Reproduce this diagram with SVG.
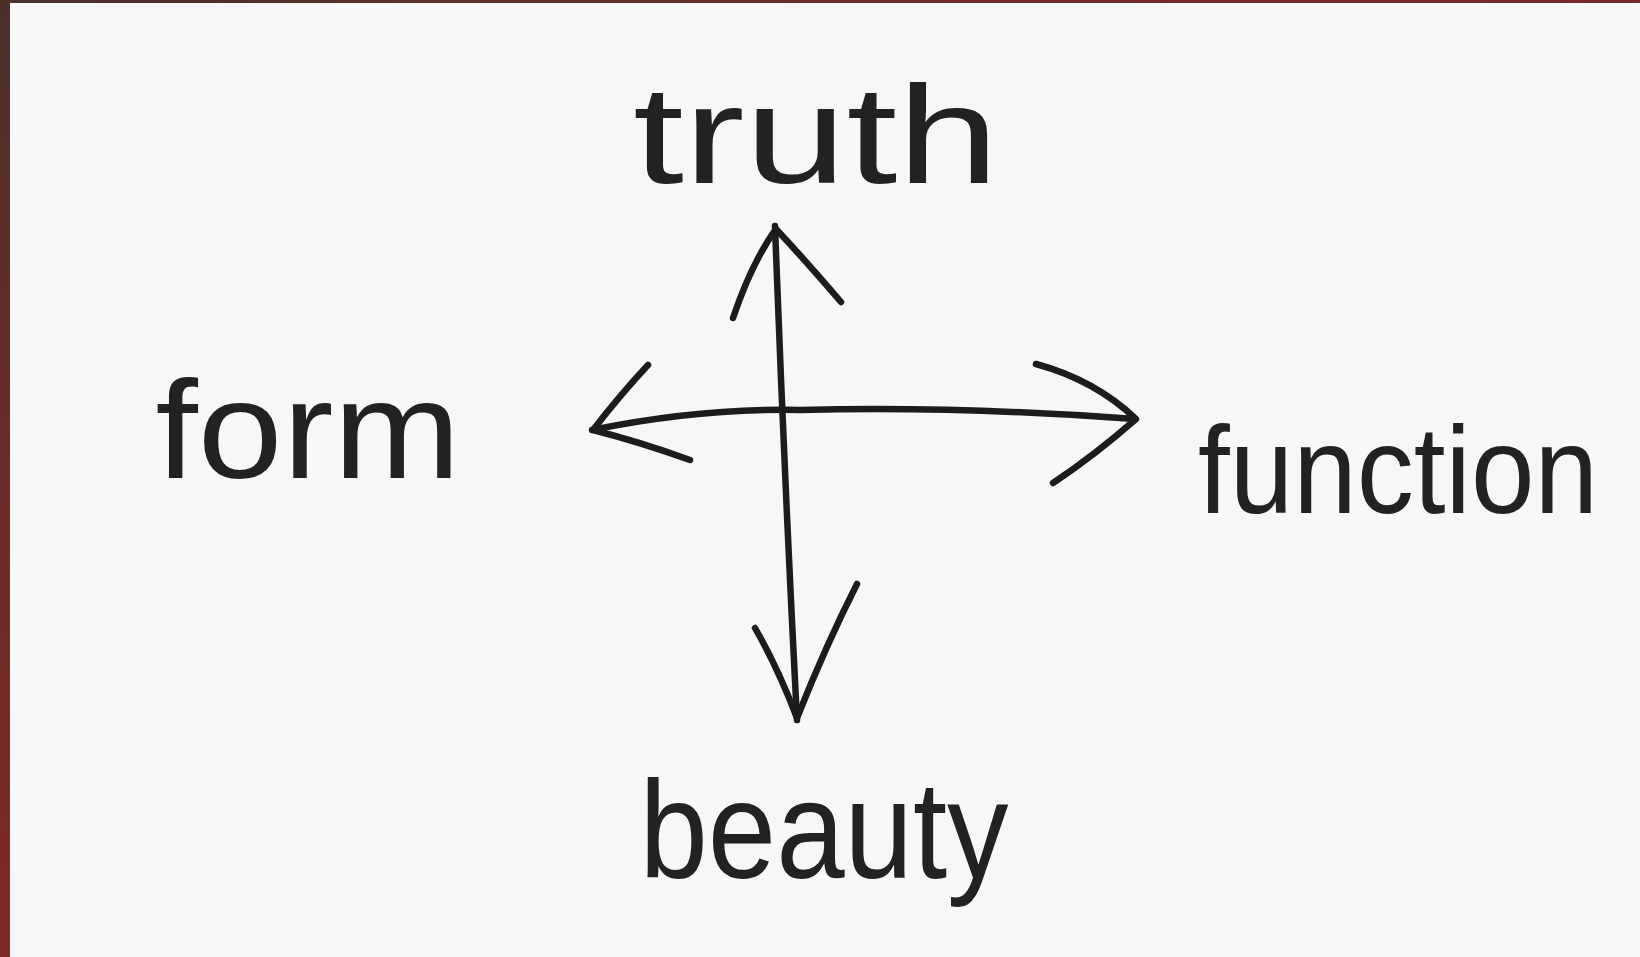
<svg xmlns="http://www.w3.org/2000/svg" width="1640" height="957" viewBox="0 0 1640 957">
  <defs>
    <linearGradient id="edgeL" x1="0" y1="0" x2="0" y2="1">
      <stop offset="0" stop-color="#4a3029"/>
      <stop offset="0.45" stop-color="#6a2c27"/>
      <stop offset="1" stop-color="#7f2b26"/>
    </linearGradient>
    <linearGradient id="edgeT" x1="0" y1="0" x2="1" y2="0">
      <stop offset="0" stop-color="#4a3029"/>
      <stop offset="0.5" stop-color="#6b2d29"/>
      <stop offset="1" stop-color="#7a2a28"/>
    </linearGradient>
  </defs>
  <style>
    .pencil { fill: none; stroke: #1c1c1c; stroke-width: 6.5; stroke-linecap: round; stroke-linejoin: round; }
    .word { font-family: "Liberation Sans", Arial, sans-serif; font-size: 140px; fill: #222222; }
  </style>
  <rect x="0" y="0" width="1640" height="957" fill="url(#edgeL)"/>
  <rect x="0" y="0" width="1640" height="4" fill="url(#edgeT)"/>
  <rect x="10" y="3" width="1630" height="954" fill="#f7f7f7"/>

  <g id="connectors">
    <!-- vertical double arrow -->
    <path class="pencil" d="M775,226 Q784,470 797,720"/>
    <path class="pencil" d="M733,318 Q752,262 776,229 Q805,260 841,302"/>
    <path class="pencil" d="M755,628 Q778,668 797,718 Q826,645 857,584"/>
    <!-- horizontal double arrow -->
    <path class="pencil" d="M592,430 Q700,408 800,410 Q960,406 1135,419"/>
    <path class="pencil" d="M648,365 Q620,395 593,430 Q640,442 690,460"/>
    <path class="pencil" d="M1036,364 Q1095,380 1136,419 Q1095,455 1053,483"/>
  </g>

  <g id="node-truth">
    <text class="word" x="816" y="183" text-anchor="middle" textLength="366" lengthAdjust="spacingAndGlyphs">truth</text>
  </g>
  <g id="node-form">
    <text class="word" x="308" y="478" text-anchor="middle" textLength="305" lengthAdjust="spacingAndGlyphs">form</text>
  </g>
  <g id="node-function">
    <text class="word" x="1398" y="513" text-anchor="middle" font-size="124" textLength="400" lengthAdjust="spacingAndGlyphs" style="font-size:124px">function</text>
  </g>
  <g id="node-beauty">
    <text class="word" x="824" y="878" text-anchor="middle" textLength="369" lengthAdjust="spacingAndGlyphs">beauty</text>
  </g>
</svg>
